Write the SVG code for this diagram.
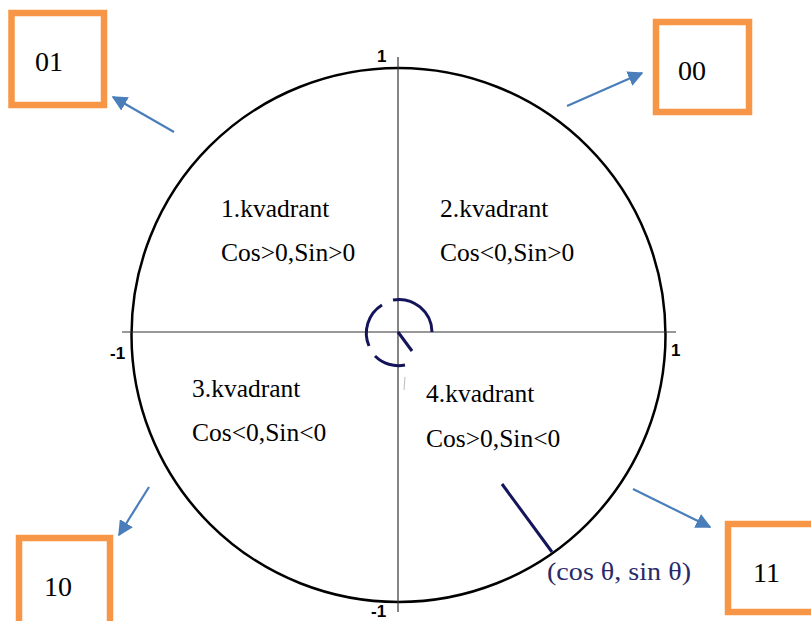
<svg xmlns="http://www.w3.org/2000/svg" width="811" height="621" viewBox="0 0 811 621">
<style>
.box{fill:#fff;stroke:#F79646;stroke-width:6.5}
.lbl{font-family:"Liberation Serif","Times New Roman",serif;font-size:28px;fill:#000}
.q{font-family:"Liberation Serif","Times New Roman",serif;font-size:25.5px;fill:#000}
.ax{font-family:"Liberation Sans",Arial,sans-serif;font-size:17px;font-weight:bold;fill:#000}
.arr{stroke:#4A7EBB;stroke-width:2.2;fill:none;marker-end:url(#ah)}
.navy{stroke:#14145a;fill:none;stroke-width:3}
</style>
<defs>
<marker id="ah" viewBox="0 0 10 10" refX="9" refY="5" markerWidth="7" markerHeight="7" markerUnits="strokeWidth" orient="auto">
<path d="M0,0 L10,5 L0,10 z" fill="#4A7EBB"/>
</marker>
</defs>
<rect width="811" height="621" fill="#fff"/>
<g id="unit-circle">
<circle cx="398.5" cy="335" r="267" fill="none" stroke="#000" stroke-width="2.5"/>
<line x1="122" y1="332" x2="676" y2="332" stroke="#333" stroke-width="1.2"/>
<line x1="398" y1="57" x2="398" y2="612" stroke="#333" stroke-width="1.2"/>
<text class="ax" x="377" y="62">1</text>
<text class="ax" x="110" y="359">-1</text>
<text class="ax" x="671" y="356">1</text>
<text class="ax" x="371" y="617">-1</text>
</g>
<g id="angle">
<path class="navy" d="M393,300 A33,33 0 0 1 432,332"/>
<path class="navy" d="M382,305 A33,33 0 0 0 369,346"/>
<path class="navy" d="M375,356 A33,33 0 0 0 405,365"/>
<line class="navy" x1="398" y1="332" x2="412" y2="351"/>
<line x1="405" y1="377" x2="404" y2="390" stroke="#bbb" stroke-width="1"/>
<line class="navy" x1="502" y1="484" x2="552" y2="552"/>
<text x="547" y="580" font-family="'Liberation Serif','Times New Roman',serif" font-size="26" fill="#2a2a6a" textLength="144" lengthAdjust="spacingAndGlyphs">(cos θ, sin θ)</text>
</g>
<g id="quadrants">
<text class="q" x="221" y="217">1.kvadrant</text>
<text class="q" x="221" y="261">Cos&gt;0,Sin&gt;0</text>
<text class="q" x="440" y="217">2.kvadrant</text>
<text class="q" x="440" y="261">Cos&lt;0,Sin&gt;0</text>
<text class="q" x="192" y="397">3.kvadrant</text>
<text class="q" x="192" y="441">Cos&lt;0,Sin&lt;0</text>
<text class="q" x="426" y="402">4.kvadrant</text>
<text class="q" x="426" y="447">Cos&gt;0,Sin&lt;0</text>
</g>
<g id="box-01">
<rect class="box" x="11.5" y="13" width="92.5" height="92"/>
<text class="lbl" x="35" y="71">01</text>
</g>
<g id="box-00">
<rect class="box" x="656" y="22" width="93" height="90"/>
<text class="lbl" x="678" y="80">00</text>
</g>
<g id="box-10">
<rect class="box" x="19" y="538" width="91" height="95"/>
<text class="lbl" x="44" y="596">10</text>
</g>
<g id="box-11">
<rect class="box" x="728" y="524" width="90" height="88"/>
<text class="lbl" x="753" y="582">11</text>
</g>
<g id="connectors">
<line class="arr" x1="174" y1="132" x2="113" y2="97"/>
<line class="arr" x1="567" y1="106" x2="642" y2="73"/>
<line class="arr" x1="149" y1="487" x2="119" y2="535"/>
<line class="arr" x1="633" y1="489" x2="710" y2="527"/>
</g>
</svg>
